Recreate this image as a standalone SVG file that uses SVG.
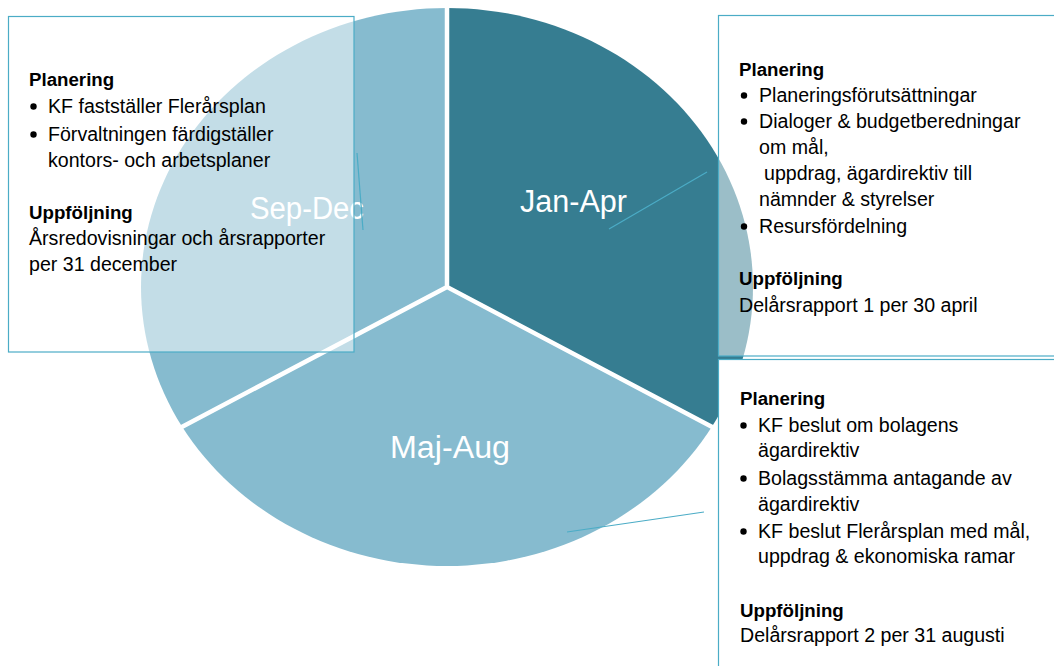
<svg xmlns="http://www.w3.org/2000/svg" width="1054" height="666" viewBox="0 0 1054 666">
<style>
.dark{fill:#367D91}
.light{fill:#86BBCF}
.sep{stroke:#FFFFFF;stroke-width:4.5;fill:none}
.lbl{font-family:"Liberation Sans",Arial,sans-serif;font-size:31px;fill:#FFFFFF}
.box{stroke:#4BACC6;stroke-width:1.2}
.semi{fill:#FFFFFF;fill-opacity:0.5}
.opaque{fill:#FFFFFF}
.t{font-family:"Liberation Sans",Arial,sans-serif;font-size:19.6px;fill:#000000}
.h{font-family:"Liberation Sans",Arial,sans-serif;font-size:18.7px;font-weight:bold;fill:#000000}
.dot{fill:#000000}
.lead{stroke:#4BACC6;stroke-width:1.2;fill:none}
</style>
<rect width="1054" height="666" fill="#FFFFFF"/>
<g id="slice-jan-apr">
<path class="dark" d="M447 287 L447 8 A306 279 0 0 1 712 426.5 Z"/>
<text class="lbl" x="520" y="212" textLength="107" lengthAdjust="spacingAndGlyphs">Jan-Apr</text>
</g>
<g id="slice-maj-aug">
<path class="light" d="M447 287 L712 426.5 A306 279 0 0 1 182 426.5 Z"/>
<text class="lbl" x="390" y="458" textLength="120" lengthAdjust="spacingAndGlyphs">Maj-Aug</text>
</g>
<g id="slice-sep-dec">
<path class="light" d="M447 287 L182 426.5 A306 279 0 0 1 447 8 Z"/>
<text class="lbl" x="250" y="219" textLength="114" lengthAdjust="spacingAndGlyphs">Sep-Dec</text>
</g>
<g id="slice-separators">
<path class="sep" d="M447 4 L447 287 L716 429 M447 287 L178 429"/>
</g>
<g id="connectors">
<line class="lead" x1="357" y1="153" x2="363" y2="230"/>
<line class="lead" x1="609" y1="229" x2="707" y2="172"/>
<line class="lead" x1="567" y1="532" x2="704" y2="512"/>
</g>
<g id="box-sep-dec">
<rect class="box semi" x="8.5" y="16.5" width="345.5" height="335.5"/>
<text class="h" x="29" y="86">Planering</text>
<circle class="dot" cx="33.5" cy="106.5" r="3.2"/>
<text class="t" x="48" y="113">KF fastställer Flerårsplan</text>
<circle class="dot" cx="33.5" cy="134.5" r="3.2"/>
<text class="t" x="48" y="141">Förvaltningen färdigställer</text>
<text class="t" x="48" y="167">kontors- och arbetsplaner</text>
<text class="h" x="29" y="219">Uppföljning</text>
<text class="t" x="29" y="245">Årsredovisningar och årsrapporter</text>
<text class="t" x="29" y="271">per 31 december</text>
</g>
<g id="box-jan-apr">
<rect class="box semi" x="718.5" y="15.5" width="360" height="340.5"/>
<text class="h" x="739" y="76">Planering</text>
<circle class="dot" cx="744" cy="95.5" r="3.2"/>
<text class="t" x="759" y="102">Planeringsförutsättningar</text>
<circle class="dot" cx="744" cy="121.5" r="3.2"/>
<text class="t" x="759" y="128">Dialoger &amp; budgetberedningar</text>
<text class="t" x="759" y="154">om mål,</text>
<text class="t" x="764" y="180">uppdrag, ägardirektiv till</text>
<text class="t" x="759" y="206">nämnder &amp; styrelser</text>
<circle class="dot" cx="744" cy="226.5" r="3.2"/>
<text class="t" x="759" y="233">Resursfördelning</text>
<text class="h" x="739" y="285">Uppföljning</text>
<text class="t" x="739" y="312">Delårsrapport 1 per 30 april</text>
</g>
<g id="box-maj-aug">
<rect class="box opaque" x="718.5" y="359.5" width="360" height="340"/>
<text class="h" x="740" y="405">Planering</text>
<circle class="dot" cx="743.5" cy="425.5" r="3.2"/>
<text class="t" x="758" y="432">KF beslut om bolagens</text>
<text class="t" x="758" y="457">ägardirektiv</text>
<circle class="dot" cx="743.5" cy="478.5" r="3.2"/>
<text class="t" x="758" y="485">Bolagsstämma antagande av</text>
<text class="t" x="758" y="511">ägardirektiv</text>
<circle class="dot" cx="743.5" cy="531.5" r="3.2"/>
<text class="t" x="758" y="538">KF beslut Flerårsplan med mål,</text>
<text class="t" x="758" y="563">uppdrag &amp; ekonomiska ramar</text>
<text class="h" x="740" y="617">Uppföljning</text>
<text class="t" x="740" y="642">Delårsrapport 2 per 31 augusti</text>
</g>
</svg>
